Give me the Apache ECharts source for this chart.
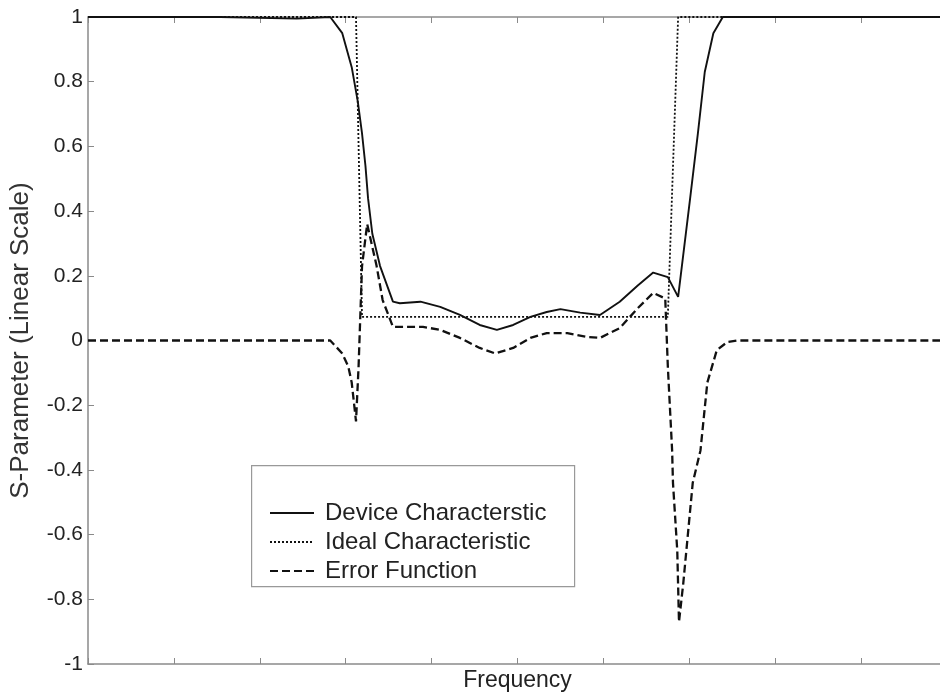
<!DOCTYPE html>
<html>
<head>
<meta charset="utf-8">
<script src="https://cdn.jsdelivr.net/npm/echarts@6/dist/echarts.min.js"></script>
<style>html,body{margin:0;padding:0;background:#fff}#c{width:940px;height:700px}</style>
</head>
<body>
<div id="c"></div>
<script>
// Frequency in arbitrary tick units (0..10), S-parameter values
var deviceX = [0, 1.54, 1.55, 2.43, 2.44, 2.82, 2.96, 3.07, 3.14, 3.19, 3.23, 3.26, 3.31, 3.40, 3.55, 3.63, 3.87, 4.10, 4.33, 4.56, 4.76, 4.95, 5.15, 5.34, 5.50, 5.73, 5.96, 6.19, 6.40, 6.58, 6.75, 6.87, 7.01, 7.10, 7.18, 7.28, 7.39, 10];
var deviceY = [1, 1, 0.995, 0.995, 1, 1, 0.95, 0.845, 0.74, 0.64, 0.54, 0.44, 0.33, 0.23, 0.12, 0.115, 0.12, 0.104, 0.079, 0.048, 0.033, 0.048, 0.073, 0.088, 0.097, 0.086, 0.079, 0.12, 0.17, 0.21, 0.196, 0.135, 0.44, 0.64, 0.83, 0.95, 1, 1];

var idealX = [0, 3.12, 3.19, 6.75, 6.87, 10];
var idealY = [1, 1, 0.073, 0.073, 1, 1];

var errorX = [0, 2.82, 2.96, 3.03, 3.07, 3.12, 3.15, 3.19, 3.25, 3.36, 3.43, 3.55, 3.90, 4.10, 4.33, 4.56, 4.74, 4.95, 5.15, 5.34, 5.58, 5.81, 5.96, 6.19, 6.40, 6.58, 6.72, 6.75, 6.80, 6.81, 6.86, 6.88, 6.93, 7.04, 7.13, 7.21, 7.32, 7.44, 7.56, 10];
var errorY = [0, 0, -0.04, -0.08, -0.13, -0.25, -0.08, 0.23, 0.36, 0.23, 0.125, 0.042, 0.042, 0.033, 0.008, -0.023, -0.04, -0.023, 0.008, 0.023, 0.023, 0.011, 0.008, 0.038, 0.1, 0.147, 0.13, -0.08, -0.34, -0.44, -0.65, -0.87, -0.75, -0.44, -0.34, -0.13, -0.03, -0.005, 0, 0];

var yTicks = [-1, -0.8, -0.6, -0.4, -0.2, 0, 0.2, 0.4, 0.6, 0.8, 1];
var seriesNames = ['Device Characterstic', 'Ideal Characteristic', 'Error Function'];

function pairs(xs, ys) { return xs.map(function (x, i) { return [x, ys[i]]; }); }

var font = 'Liberation Sans, Arial, sans-serif';
var axisCol = '#8a8a8a';
var chart = echarts.init(document.getElementById('c'), null, { renderer: 'canvas' });
chart.setOption({
  animation: false,
  backgroundColor: '#fff',
  grid: { left: 88, top: 17, width: 859, height: 647, containLabel: false, outerBoundsMode: 'none' },
  graphic: [{
    type: 'rect', left: 251, top: 465, z: 5,
    shape: { width: 323, height: 121 },
    style: { fill: '#fff', stroke: '#999', lineWidth: 1.2 }
  }],
  legend: {
    orient: 'vertical', left: 264, top: 496, z: 10,
    itemWidth: 44, itemHeight: 14, itemGap: 5,
    itemStyle: { opacity: 0 },
    textStyle: { fontFamily: font, fontSize: 24, color: '#222', padding: [0, 0, 0, 6] },
    data: seriesNames
  },
  xAxis: [{
    type: 'value', min: 0, max: 10, interval: 1, position: 'bottom',
    name: 'Frequency', nameLocation: 'middle', nameGap: 5,
    nameTextStyle: { fontFamily: font, fontSize: 23, color: '#222', verticalAlign: 'top' },
    axisLine: { onZero: false, lineStyle: { color: axisCol, width: 1.5 } },
    axisTick: { inside: true, length: 6, lineStyle: { color: axisCol } },
    axisLabel: { show: false }, splitLine: { show: false }
  }, {
    type: 'value', min: 0, max: 10, interval: 1, position: 'top',
    axisLine: { onZero: false, lineStyle: { color: axisCol, width: 1.5 } },
    axisTick: { inside: true, length: 6, lineStyle: { color: axisCol } },
    axisLabel: { show: false }, splitLine: { show: false }
  }],
  yAxis: [{
    type: 'value', min: -1, max: 1, interval: 0.2, position: 'left',
    name: 'S-Parameter (Linear Scale)', nameLocation: 'middle', nameGap: 54, nameRotate: 90,
    nameTextStyle: { fontFamily: font, fontSize: 26, color: '#333' },
    axisLine: { onZero: false, lineStyle: { color: axisCol, width: 1.5 } },
    axisTick: { inside: true, length: 6, lineStyle: { color: axisCol } },
    axisLabel: {
      fontFamily: font, fontSize: 21, color: '#222', margin: 5,
      formatter: function (v) { var r = Math.round(v * 10) / 10; return yTicks.indexOf(r) >= 0 ? String(r) : ''; }
    },
    splitLine: { show: false }
  }, {
    type: 'value', min: -1, max: 1, interval: 0.2, position: 'right',
    axisLine: { onZero: false, lineStyle: { color: axisCol, width: 1.5 } },
    axisTick: { inside: true, length: 6, lineStyle: { color: axisCol } },
    axisLabel: { show: false }, splitLine: { show: false }
  }],
  series: [{
    name: seriesNames[0], type: 'line', symbol: 'none', z: 3,
    data: pairs(deviceX, deviceY),
    lineStyle: { color: '#111', width: 1.9, type: 'solid' }, itemStyle: { color: '#111' }
  }, {
    name: seriesNames[1], type: 'line', symbol: 'none', z: 3,
    data: pairs(idealX, idealY),
    lineStyle: { color: '#111', width: 1.8, type: [2, 2] }, itemStyle: { color: '#111' }
  }, {
    name: seriesNames[2], type: 'line', symbol: 'none', z: 3,
    data: pairs(errorX, errorY),
    lineStyle: { color: '#111', width: 2.3, type: [8, 4] }, itemStyle: { color: '#111' }
  }]
});
</script>
</body>
</html>
